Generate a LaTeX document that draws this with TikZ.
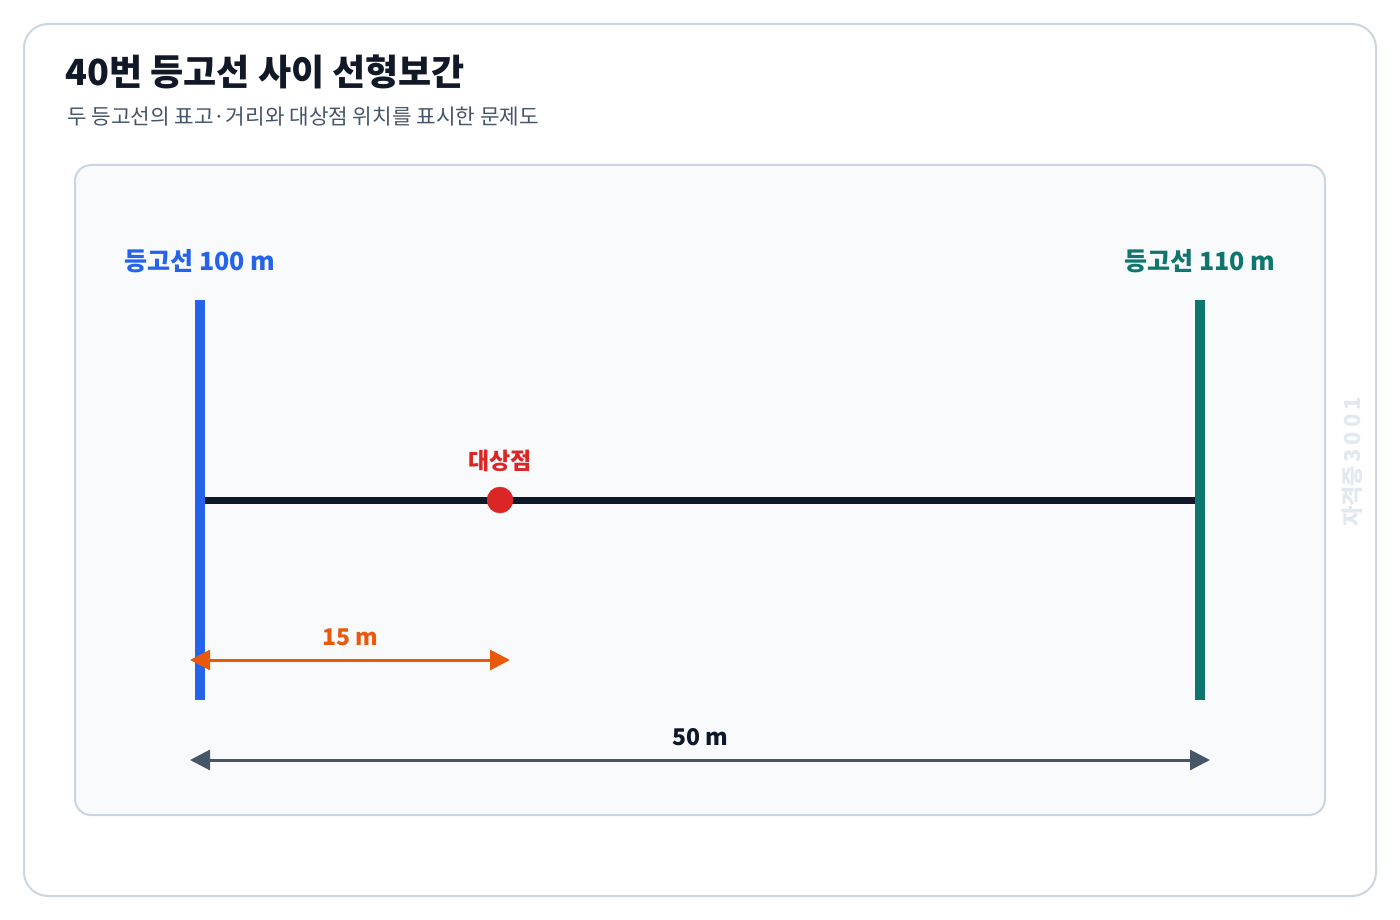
\documentclass[tikz,border=0pt]{standalone}
\usepackage{fontspec}
\setmainfont{Noto Sans CJK KR}
\usepackage{xcolor}
\usetikzlibrary{arrows.meta}
\definecolor{cardline}{HTML}{CBD5E1}
\definecolor{panelfill}{HTML}{F8FAFC}
\definecolor{titleink}{HTML}{111827}
\definecolor{subink}{HTML}{475569}
\definecolor{lowblue}{HTML}{2563EB}
\definecolor{highteal}{HTML}{0F766E}
\definecolor{baseink}{HTML}{0F172A}
\definecolor{pointred}{HTML}{DC2626}
\definecolor{partorange}{HTML}{EA580C}
\definecolor{spangray}{HTML}{475569}
\definecolor{markgray}{HTML}{E2E8F0}
\tikzset{
  contour/.style={line width=10pt},
  dimarrow/.style={line width=3pt, {Triangle[length=20pt,width=20pt]}-{Triangle[length=20pt,width=20pt]}},
  boldlabel/.style={font=\bfseries\fontsize{25}{29}\selectfont, anchor=base},
  smalllabel/.style={font=\bfseries\fontsize{23}{27}\selectfont, anchor=base}
}
\begin{document}
\begin{tikzpicture}[x=1pt, y=-1pt]
		\useasboundingbox (0,0) rectangle (1400,920);
		\fill[white] (0,0) rectangle (1400,920);
		\filldraw[color=cardline, fill=white, line width=2pt, rounded corners=24pt] (24,24) rectangle (1376,896);
		\node[anchor=base west, text=titleink, font=\bfseries\fontsize{36}{42}\selectfont, inner sep=0pt] (title) at (65,86) {40번 등고선 사이 선형보간};
		\node[anchor=base west, text=subink, font=\fontsize{21.3}{25}\selectfont, inner sep=0pt] (subtitle) at (67,125) {두 등고선의 표고·거리와 대상점 위치를 표시한 문제도};
		\filldraw[color=cardline, fill=panelfill, line width=2pt, rounded corners=16pt] (75,165) rectangle (1325,815);
		% contour lines and the straight line between them
		\coordinate (lowtop) at (200,300);
		\coordinate (lowbot) at (200,700);
		\coordinate (hightop) at (1200,300);
		\coordinate (highbot) at (1200,700);
		\draw[color=baseink, line width=7pt] (200,500) coordinate (lowmid) -- (1200,500) coordinate (highmid);
		\draw[contour, color=lowblue] (lowtop) -- (lowbot);
		\draw[contour, color=highteal] (hightop) -- (highbot);
		\node[boldlabel, text=lowblue] (lowlabel) at (200,270) {등고선 100 m};
		\node[boldlabel, text=highteal] (highlabel) at (1200,270) {등고선 110 m};
		\filldraw[color=pointred] (500,500) circle (13pt) coordinate (target);
		\node[smalllabel, text=pointred] (targetlabel) at (500,469) {대상점};
		% distances
		\coordinate (partL) at (190,660);
		\coordinate (partR) at (510,660);
		\draw[dimarrow, color=partorange, fill=partorange] (partL) -- (partR);
		\node[smalllabel, text=partorange] (partlabel) at (350,645) {15 m};
		\coordinate (spanL) at (190,760);
		\coordinate (spanR) at (1210,760);
		\draw[dimarrow, color=spangray, fill=spangray] (spanL) -- (spanR);
		\node[smalllabel, text=baseink] (spanlabel) at (700,745) {50 m};
		\node[rotate=90, text=markgray, font=\bfseries\fontsize{22}{26}\selectfont] (mark) at (1352,462) {자격증\,3\,0\,0\,1};
\end{tikzpicture}
\end{document}
